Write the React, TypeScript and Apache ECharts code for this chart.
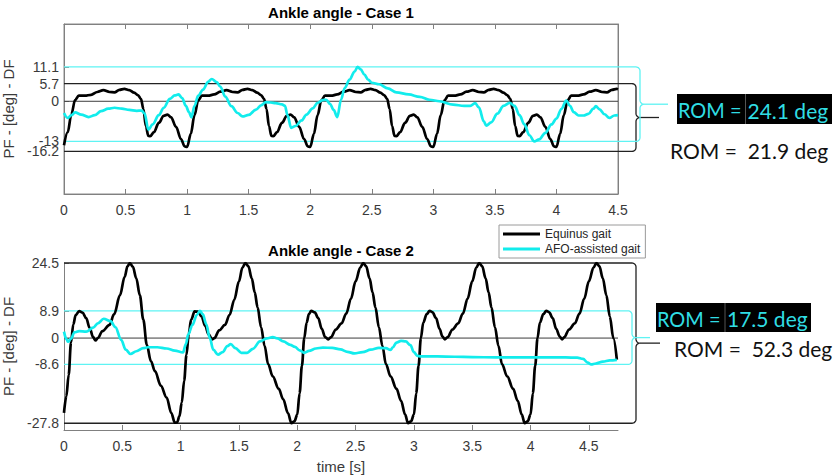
import React, { useEffect, useRef } from "react";
import * as echarts from "echarts";

// ---------- data ----------
const xTicks = [0, 0.5, 1, 1.5, 2, 2.5, 3, 3.5, 4, 4.5];
const yTicksCase1 = [-16.2, -13, 0, 5.7, 11.1];
const yLabelsCase1Main = [-16.2, 0, 5.7, 11.1];
const yLabelsCase1Extra = [-13];
const yTicksCase2 = [-27.8, -8.6, 0, 8.9, 24.5];

const case1EquinusRange = [-16.2, 5.7];
const case1AfoRange = [-13, 11.1];
const case2EquinusRange = [-27.8, 24.5];
const case2AfoRange = [-8.6, 8.9];

const case1Equinus: [number, number][] = [
  [0.0, -14.2], [0.03, -10.0], [0.06, -4.2], [0.09, 0.4], [0.12, 1.8], [0.17, 1.8], [0.22, 2.1], [0.27, 3.0], [0.32, 3.6], [0.37, 3.0], [0.41, 2.9], [0.45, 3.7], [0.49, 4.0], [0.53, 3.6], [0.57, 2.8], [0.6, 2.0], [0.625, 0.8], [0.645, -2.5], [0.665, -8.0], [0.685, -11.2], [0.7, -11.3], [0.73, -10.0], [0.77, -7.0], [0.81, -4.7], [0.84, -4.3], [0.87, -5.2], [0.91, -8.3], [0.95, -12.2], [0.98, -14.6],
  [1.0, -14.8], [1.03, -10.5], [1.06, -4.5], [1.09, 0.3], [1.12, 1.8], [1.17, 1.8], [1.22, 2.2], [1.27, 3.1], [1.32, 3.6], [1.37, 3.0], [1.41, 2.9], [1.45, 3.7], [1.49, 4.0], [1.53, 3.6], [1.57, 2.8], [1.6, 2.0], [1.625, 0.8], [1.645, -2.5], [1.665, -8.0], [1.685, -11.2], [1.7, -11.3], [1.73, -10.0], [1.77, -7.0], [1.81, -4.7], [1.84, -4.3], [1.87, -5.2], [1.91, -8.3], [1.95, -12.2], [1.98, -14.6],
  [2.0, -14.8], [2.03, -10.5], [2.06, -4.5], [2.09, 0.3], [2.12, 1.8], [2.17, 1.8], [2.22, 2.2], [2.27, 3.1], [2.32, 3.6], [2.37, 3.0], [2.41, 2.9], [2.45, 3.7], [2.49, 4.0], [2.53, 3.6], [2.57, 2.8], [2.6, 2.0], [2.625, 0.8], [2.645, -2.5], [2.665, -8.0], [2.685, -11.2], [2.7, -11.3], [2.73, -10.0], [2.77, -7.0], [2.81, -4.7], [2.84, -4.3], [2.87, -5.2], [2.91, -8.3], [2.95, -12.2], [2.98, -14.6],
  [3.0, -14.8], [3.03, -10.5], [3.06, -4.5], [3.09, 0.3], [3.12, 1.8], [3.17, 1.8], [3.22, 2.2], [3.27, 3.1], [3.32, 3.6], [3.37, 3.0], [3.41, 2.9], [3.45, 3.7], [3.49, 4.0], [3.53, 3.6], [3.57, 2.8], [3.6, 2.0], [3.625, 0.8], [3.645, -2.5], [3.665, -8.0], [3.685, -11.2], [3.7, -11.3], [3.73, -10.0], [3.77, -7.0], [3.81, -4.7], [3.84, -4.3], [3.87, -5.2], [3.91, -8.3], [3.95, -12.2], [3.98, -14.6],
  [4.0, -14.8], [4.03, -10.5], [4.06, -4.5], [4.09, 0.3], [4.12, 1.8], [4.17, 1.8], [4.22, 2.2], [4.27, 3.1], [4.32, 3.6], [4.37, 3.0], [4.41, 2.9], [4.45, 3.7], [4.49, 4.0], [4.5, 3.9],
];

const case1Afo: [number, number][] = [
  [0.0, -3.8], [0.03, -5.4], [0.06, -4.5], [0.09, -3.6], [0.14, -4.3], [0.2, -5.1], [0.25, -4.5], [0.3, -3.2], [0.36, -2.4], [0.41, -2.1], [0.47, -2.4], [0.53, -2.8], [0.59, -3.1], [0.63, -3.0], [0.655, -4.0], [0.685, -9.2], [0.72, -7.5], [0.77, -4.5], [0.81, -2.1], [0.86, 0.8], [0.9, 1.9], [0.93, 2.2], [0.96, 1.0], [0.99, -1.5], [1.015, -3.5], [1.035, -5.2], [1.06, -1.5], [1.09, 1.8], [1.13, 3.8], [1.17, 6.3], [1.2, 7.2], [1.24, 6.2], [1.27, 4.7], [1.31, 1.5], [1.36, -1.6], [1.41, -3.8], [1.45, -4.9], [1.5, -4.4], [1.56, -2.7], [1.6, -1.3], [1.64, -0.3], [1.68, -0.4], [1.72, -0.6], [1.77, -1.0], [1.795, -1.5], [1.815, -4.5], [1.845, -8.6], [1.88, -8.0], [1.93, -6.2], [1.97, -4.3], [2.02, -2.3], [2.06, -0.5], [2.1, 0.4], [2.13, 0.5], [2.16, -0.8], [2.19, -2.8], [2.22, -5.1], [2.25, 0.5], [2.28, 4.3], [2.32, 7.0], [2.36, 9.6], [2.385, 11.1], [2.41, 10.3], [2.44, 8.6], [2.47, 7.0], [2.5, 6.0], [2.56, 5.5], [2.63, 4.2], [2.7, 2.9], [2.8, 2.2], [2.89, 1.4], [2.97, 0.5], [3.05, 0.0], [3.16, -1.1], [3.25, -1.5], [3.3, -1.5], [3.34, -0.6], [3.37, -2.0], [3.41, -6.5], [3.43, -7.9], [3.47, -6.8], [3.52, -4.0], [3.57, -1.5], [3.62, -0.5], [3.66, -1.5], [3.7, -4.5], [3.74, -7.5], [3.78, -11.0], [3.82, -13.0], [3.86, -12.3], [3.91, -10.2], [3.96, -7.5], [4.0, -5.6], [4.04, -2.5], [4.08, 0.2], [4.11, -1.5], [4.14, -3.5], [4.18, -4.6], [4.22, -4.6], [4.26, -4.1], [4.3, -2.4], [4.32, -1.6], [4.35, -2.6], [4.39, -4.2], [4.43, -5.4], [4.47, -4.6], [4.5, -4.5],
];

const case2Equinus: [number, number][] = [
  [0.0, -24.4], [0.02, -19.0], [0.04, -12.0], [0.06, -1.5], [0.08, 4.5], [0.1, 7.5], [0.13, 8.8], [0.16, 8.3], [0.19, 6.5], [0.22, 3.3], [0.25, 0.3], [0.27, -0.8], [0.29, 0.0], [0.33, 2.3], [0.39, 4.3], [0.43, 7.8], [0.48, 14.0], [0.52, 20.0], [0.545, 23.5], [0.565, 24.5], [0.59, 23.3], [0.62, 19.5], [0.65, 14.0], [0.68, 6.0], [0.71, -2.2], [0.745, -7.5], [0.78, -10.8], [0.83, -15.5], [0.88, -19.4], [0.92, -24.5], [0.95, -27.6], [0.97, -27.5], [0.99, -25.5],
  [1.01, -21.0], [1.03, -14.0], [1.05, -5.5], [1.07, 1.5], [1.09, 6.0], [1.12, 8.7], [1.15, 8.6], [1.18, 7.0], [1.21, 4.0], [1.24, 1.2], [1.27, -0.4], [1.29, 0.0], [1.33, 2.5], [1.38, 4.3], [1.42, 7.6], [1.46, 12.5], [1.5, 18.5], [1.53, 23.0], [1.555, 24.5], [1.58, 23.5], [1.61, 19.5], [1.635, 15.0], [1.66, 10.0], [1.69, 3.5], [1.72, -2.5], [1.75, -8.5], [1.79, -12.5], [1.84, -16.5], [1.88, -20.0], [1.92, -24.5], [1.95, -27.8], [1.975, -27.2],
  [2.0, -25.0], [2.02, -18.0], [2.04, -9.0], [2.06, 0.0], [2.08, 5.0], [2.1, 7.8], [2.12, 8.9], [2.15, 8.4], [2.18, 6.5], [2.21, 3.0], [2.24, 0.3], [2.265, -0.4], [2.29, 0.3], [2.33, 2.8], [2.38, 4.8], [2.42, 8.0], [2.46, 12.8], [2.5, 18.5], [2.54, 23.0], [2.565, 24.5], [2.59, 23.5], [2.62, 19.5], [2.645, 15.0], [2.67, 10.0], [2.7, 3.5], [2.73, -2.5], [2.76, -8.5], [2.8, -12.5], [2.85, -16.5], [2.89, -20.5], [2.925, -25.0], [2.95, -27.8], [2.975, -27.2],
  [3.0, -25.0], [3.02, -18.0], [3.04, -9.0], [3.06, 0.0], [3.08, 5.0], [3.11, 7.8], [3.135, 8.9], [3.16, 8.4], [3.19, 6.5], [3.22, 3.0], [3.245, 0.5], [3.265, -0.4], [3.29, 0.3], [3.33, 2.8], [3.38, 4.8], [3.42, 8.0], [3.46, 12.8], [3.5, 18.5], [3.535, 23.0], [3.56, 24.5], [3.585, 23.5], [3.615, 19.5], [3.64, 15.0], [3.665, 10.0], [3.695, 3.5], [3.725, -2.5], [3.755, -8.5], [3.8, -12.5], [3.85, -16.5], [3.89, -20.5], [3.925, -25.0], [3.95, -27.8], [3.975, -27.2],
  [4.0, -25.0], [4.02, -18.0], [4.04, -9.0], [4.06, 0.0], [4.08, 5.0], [4.11, 7.8], [4.135, 8.9], [4.16, 8.4], [4.19, 6.5], [4.22, 3.0], [4.25, 0.5], [4.27, -0.4], [4.29, 0.3], [4.33, 2.8], [4.38, 4.8], [4.42, 8.0], [4.46, 12.8], [4.5, 18.5], [4.54, 23.0], [4.565, 24.5], [4.59, 23.5], [4.62, 19.5], [4.65, 14.0], [4.68, 7.0], [4.71, 0.0], [4.74, -7.0],
];

const case2Afo: [number, number][] = [
  [0.0, 2.1], [0.02, -0.3], [0.035, -1.2], [0.06, -0.2], [0.09, 1.9], [0.13, 2.3], [0.19, 2.1], [0.25, 3.4], [0.29, 4.8], [0.34, 6.3], [0.4, 5.5], [0.44, 3.6], [0.49, -0.6], [0.53, -3.8], [0.57, -5.2], [0.62, -4.3], [0.68, -3.3], [0.72, -3.0], [0.8, -3.0], [0.88, -3.4], [0.95, -4.1], [1.02, -4.7], [1.045, -2.0], [1.065, 1.2], [1.1, 4.2], [1.14, 7.6], [1.165, 8.9], [1.19, 7.8], [1.22, 4.5], [1.25, 0.0], [1.28, -3.8], [1.32, -5.4], [1.36, -4.6], [1.4, -2.6], [1.43, -2.0], [1.47, -3.3], [1.52, -4.8], [1.57, -4.8], [1.62, -3.5], [1.68, -1.1], [1.74, -0.1], [1.79, 0.3], [1.83, -0.1], [1.88, -1.1], [1.94, -2.2], [1.98, -2.9], [2.02, -4.0], [2.06, -4.8], [2.1, -4.2], [2.16, -3.4], [2.22, -3.1], [2.3, -3.2], [2.37, -3.7], [2.43, -4.5], [2.49, -5.0], [2.56, -4.6], [2.63, -3.8], [2.7, -3.2], [2.76, -3.3], [2.8, -3.9], [2.82, -3.0], [2.85, -1.5], [2.89, -0.9], [2.93, -1.1], [2.97, -2.3], [3.0, -4.6], [3.03, -5.8], [3.06, -6.0], [3.2, -6.0], [3.35, -6.1], [3.5, -6.2], [3.7, -6.3], [3.9, -6.3], [4.1, -6.3], [4.3, -6.3], [4.4, -6.4], [4.45, -6.8], [4.49, -8.0], [4.52, -8.6], [4.56, -8.3], [4.62, -7.7], [4.68, -7.3], [4.74, -7.1],
];

// ---------- styles ----------
const FONT = "'Liberation Sans', Arial, sans-serif";
const NOTE_FONT = "Lato, 'Liberation Sans', sans-serif";
const AXIS_COLOR = "#808080";
const LABEL_COLOR = "#3a3a3a";
const CYAN = "#12ecec";
const CYAN_THIN = "#5ff3f3";
const CYAN_TEXT = "#30dde3";
const REF_DARK = "#3c3c3c";

function xAxisCfg(gridIndex: number, max: number, extra: any = {}) {
  return {
    type: "value",
    gridIndex,
    min: 0,
    max,
    axisLine: { show: true, onZero: false, lineStyle: { color: AXIS_COLOR, width: 1 } },
    axisTick: { show: true, inside: true, length: 5, customValues: xTicks, lineStyle: { color: AXIS_COLOR } },
    axisLabel: { show: true, customValues: xTicks, color: LABEL_COLOR, fontSize: 14, fontFamily: FONT, margin: 9, hideOverlap: false, showMinLabel: true, showMaxLabel: true },
    splitLine: { show: false },
    ...extra,
  };
}

function yAxisCfg(gridIndex: number, min: number, max: number, ticks: number[], labels: number[]) {
  return {
    type: "value",
    gridIndex,
    min,
    max,
    name: "PF - [deg] - DF",
    nameLocation: "middle",
    nameGap: 41,
    nameRotate: 90,
    nameTextStyle: { color: LABEL_COLOR, fontSize: 15, fontFamily: FONT },
    axisLine: { show: true, onZero: false, lineStyle: { color: AXIS_COLOR, width: 1 } },
    axisTick: { show: true, inside: true, length: 5, customValues: ticks, lineStyle: { color: AXIS_COLOR } },
    axisLabel: { show: true, customValues: labels, color: LABEL_COLOR, fontSize: 14, fontFamily: FONT, margin: 5, hideOverlap: false, showMinLabel: true, showMaxLabel: true },
    splitLine: { show: false },
  };
}

function lineSeries(name: string, data: [number, number][], gridIdx: 0 | 1, color: string) {
  return {
    type: "line",
    name,
    data,
    xAxisIndex: gridIdx === 0 ? 0 : 2,
    yAxisIndex: gridIdx === 0 ? 0 : 2,
    showSymbol: false,
    symbol: "none",
    smooth: 0.35,
    smoothMonotone: "x",
    lineStyle: { color, width: 2.7 },
    itemStyle: { color },
    z: 3,
  };
}

function brace(x0: number, yTop: number, yBot: number, xv: number, r: number) {
  const yMid = (yTop + yBot) / 2;
  const pts: number[][] = [[x0, yTop], [xv - r, yTop]];
  const n = 8;
  for (let i = 1; i <= n; i++) {
    const a = (Math.PI / 2) * (i / n);
    pts.push([xv - r + r * Math.sin(a), yTop + r - r * Math.cos(a)]);
  }
  pts.push([xv, yMid - r]);
  for (let i = 1; i <= n; i++) {
    const a = (Math.PI / 2) * (i / n);
    pts.push([xv + r - r * Math.cos(a), yMid - r + r * Math.sin(a)]);
  }
  for (let i = 1; i <= n; i++) {
    const a = (Math.PI / 2) * (i / n);
    pts.push([xv + r - r * Math.sin(a), yMid + r - r * Math.cos(a)]);
  }
  pts.push([xv, yBot - r]);
  for (let i = 1; i <= n; i++) {
    const a = (Math.PI / 2) * (i / n);
    pts.push([xv - r + r * Math.cos(a), yBot - r + r * Math.sin(a)]);
  }
  pts.push([x0, yBot]);
  return { pts, yMid, tipX: xv + r };
}

export default function App() {
  const ref = useRef<HTMLDivElement>(null);

  useEffect(() => {
    if (!ref.current) return;
    const chart = echarts.init(ref.current, undefined, { renderer: "svg" });

    chart.setOption({
      animation: false,
      backgroundColor: "#ffffff",
      textStyle: { fontFamily: FONT },
      title: [
        { text: "Ankle angle - Case 1", left: 341, top: 5, textAlign: "center", padding: 0, textStyle: { fontSize: 15, fontWeight: "bold", color: "#000", fontFamily: FONT } },
        { text: "Ankle angle - Case 2", left: 341, top: 243, textAlign: "center", padding: 0, textStyle: { fontSize: 15, fontWeight: "bold", color: "#000", fontFamily: FONT } },
      ],
      legend: {
        left: 499,
        top: 225,
        orient: "vertical",
        data: ["Equinus gait", "AFO-assisted gait"],
        icon: "rect",
        itemWidth: 37,
        itemHeight: 3,
        itemGap: 3,
        padding: [3, 5, 3, 4],
        borderColor: "#9a9a9a",
        borderWidth: 1,
        borderRadius: 0,
        backgroundColor: "#ffffff",
        textStyle: { fontSize: 12, color: "#262626", fontFamily: FONT },
        z: 10,
      },
      grid: [
        { left: 64, top: 24, width: 554, height: 170, show: true, borderColor: "#8c8c8c", borderWidth: 1, backgroundColor: "transparent", containLabel: false, outerBoundsMode: "none" },
        { left: 64, top: 263, width: 554, height: 167, containLabel: false, outerBoundsMode: "none" },
      ],
      xAxis: [
        xAxisCfg(0, 4.5),
        xAxisCfg(0, 4.5, { position: "top", axisLabel: { show: false } }),
        xAxisCfg(1, 4.75, {
          name: "time [s]",
          nameLocation: "middle",
          nameGap: 29,
          nameTextStyle: { color: LABEL_COLOR, fontSize: 15, fontFamily: FONT },
        }),
      ],
      yAxis: [
        yAxisCfg(0, -30, 25, yTicksCase1, yLabelsCase1Main),
        { type: "value", gridIndex: 0, min: -30, max: 25, position: "right", axisLine: { show: true, onZero: false, lineStyle: { color: AXIS_COLOR } }, axisTick: { show: false }, axisLabel: { show: false }, splitLine: { show: false } },
        yAxisCfg(1, -30, 24.5, yTicksCase2, yTicksCase2),
        {
          type: "value", gridIndex: 0, min: -30, max: 25, position: "left",
          axisLine: { show: false, onZero: false }, axisTick: { show: false }, splitLine: { show: false },
          axisLabel: { show: true, customValues: yLabelsCase1Extra, color: LABEL_COLOR, fontSize: 14, fontFamily: FONT, margin: 5, showMinLabel: true, showMaxLabel: true },
        },
      ],
      series: [
        lineSeries("Equinus gait", case1Equinus, 0, "#000000"),
        lineSeries("AFO-assisted gait", case1Afo, 0, CYAN),
        lineSeries("Equinus gait", case2Equinus, 1, "#000000"),
        lineSeries("AFO-assisted gait", case2Afo, 1, CYAN),
      ],
    });

    const p = (g: number, x: number, y: number) => chart.convertToPixel({ gridIndex: g } as any, [x, y]) as number[];

    const graphics: any[] = [];
    const hline = (g: number, y: number, xMax: number, color: string) => {
      const a = p(g, 0, y);
      const b = p(g, xMax, y);
      graphics.push({ type: "line", z: 1, silent: true, shape: { x1: a[0], y1: a[1], x2: b[0], y2: b[1] }, style: { stroke: color, lineWidth: 1 } });
    };
    const addBrace = (g: number, range: number[], xv: number, tailX: number, color: string, width: number) => {
      const top = p(g, 0, range[1]);
      const bot = p(g, 0, range[0]);
      const b = brace(top[0], top[1], bot[1], xv, 4);
      graphics.push({ type: "polyline", z: 1, silent: true, shape: { points: b.pts }, style: { stroke: color, lineWidth: width, fill: null } });
      graphics.push({ type: "line", z: 1, silent: true, shape: { x1: b.tipX, y1: b.yMid, x2: tailX, y2: b.yMid }, style: { stroke: color, lineWidth: width } });
    };

    // zero lines
    hline(0, 0, 4.5, REF_DARK);
    hline(1, 0, 4.75, REF_DARK);
    // braces (with the range lines)
    addBrace(0, case1EquinusRange, 636, 659, "#222", 1.3);
    addBrace(0, case1AfoRange, 640, 668, CYAN_THIN, 1.3);
    addBrace(1, case2EquinusRange, 636, 660, "#222", 1.3);
    addBrace(1, case2AfoRange, 632, 650, CYAN_THIN, 1.3);

    const rom = (r: number[]) => (r[1] - r[0]).toFixed(1);
    const NOTE_SIZE = 21;
    const noteBox = (x: number, y: number, w: number, h: number, divX: number, val: string) => {
      graphics.push({ type: "rect", z: 5, shape: { x, y, width: w, height: h }, style: { fill: "#000" } });
      graphics.push({ type: "line", z: 6, shape: { x1: divX, y1: y, x2: divX, y2: y + h }, style: { stroke: "#555", lineWidth: 1 } });
      graphics.push({ type: "text", z: 7, x: x + 1, y: y + h / 2 + 1, scaleX: 0.95, style: { text: "ROM =", fill: CYAN_TEXT, font: `${NOTE_SIZE}px ${NOTE_FONT}`, verticalAlign: "middle", align: "left" } });
      graphics.push({ type: "text", z: 7, x: divX + 2, y: y + h / 2 + 1, style: { text: `${val} deg`, fill: CYAN_TEXT, font: `${NOTE_SIZE}px ${NOTE_FONT}`, verticalAlign: "middle", align: "left" } });
    };
    const noteText = (x: number, y: number, val: string) => {
      graphics.push({ type: "text", z: 7, x, y, style: { text: `ROM =  ${val} deg`, fill: "#111", font: `${NOTE_SIZE}px ${NOTE_FONT}`, verticalAlign: "middle", align: "left" } });
    };

    noteBox(677, 94, 155, 30, 745.5, rom(case1AfoRange));
    noteText(670, 150, rom(case1EquinusRange));
    noteBox(656, 303, 155, 29, 725, rom(case2AfoRange));
    noteText(674, 348, rom(case2EquinusRange));

    chart.setOption({ graphic: graphics });

    return () => chart.dispose();
  }, []);

  return <div ref={ref} style={{ position: "fixed", left: 0, top: 0, width: 835, height: 476, background: "#fff" }} />;
}
